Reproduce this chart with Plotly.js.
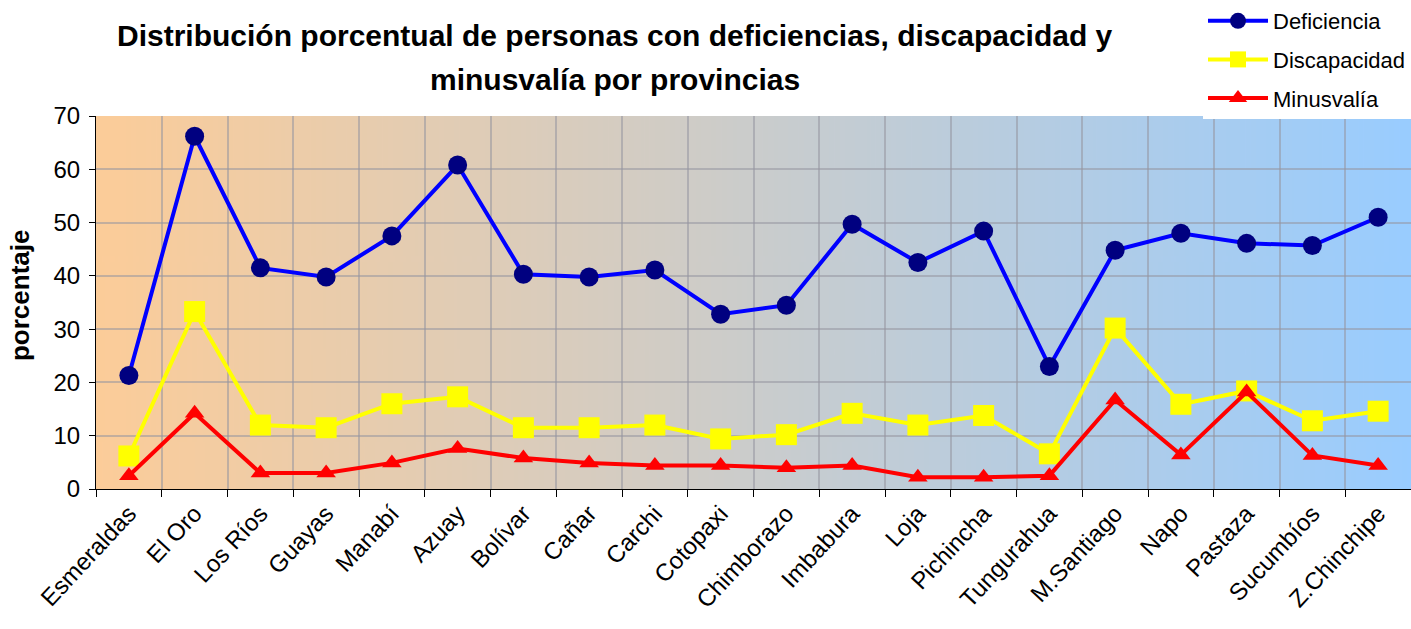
<!DOCTYPE html>
<html>
<head>
<meta charset="utf-8">
<script src="https://cdn.plot.ly/plotly-3.0.1.min.js"></script>
<style>
  html, body { margin: 0; padding: 0; background: #ffffff; }
  #chart { width: 1411px; height: 629px; }
</style>
</head>
<body>
<div id="chart"></div>
<script>
var provincias = ["Esmeraldas", "El Oro", "Los Ríos", "Guayas", "Manabí", "Azuay", "Bolívar", "Cañar", "Carchi", "Cotopaxi",
                  "Chimborazo", "Imbabura", "Loja", "Pichincha", "Tungurahua", "M.Santiago", "Napo", "Pastaza", "Sucumbíos", "Z.Chinchipe"];
var deficiencia  = [21.3, 66.2, 41.5, 39.8, 47.5, 60.8, 40.3, 39.8, 41.1, 32.8, 34.5, 49.7, 42.5, 48.4, 23.0, 44.8, 48.0, 46.1, 45.7, 51.0];
var discapacidad = [6.2, 33.3, 12.0, 11.5, 16.0, 17.3, 11.5, 11.5, 12.0, 9.4, 10.2, 14.2, 12.0, 13.8, 6.6, 30.2, 15.9, 18.4, 12.8, 14.6];
var minusvalia   = [2.5, 14.2, 3.0, 3.0, 4.9, 7.6, 5.8, 4.9, 4.4, 4.4, 4.0, 4.4, 2.2, 2.2, 2.5, 16.7, 6.4, 18.2, 6.3, 4.4];
var yTicks = [0, 10, 20, 30, 40, 50, 60, 70];

var titleLine1 = "Distribución porcentual de personas con deficiencias, discapacidad y";
var titleLine2 = "minusvalía por provincias";
var yTitle = "porcentaje";

// gradient background image for the plot area
var cv = document.createElement("canvas");
cv.width = 512; cv.height = 4;
var ctx = cv.getContext("2d");
var g = ctx.createLinearGradient(0, 0, 512, 0);
g.addColorStop(0, "rgb(252,204,153)");
g.addColorStop(1, "rgb(153,204,255)");
ctx.fillStyle = g;
ctx.fillRect(0, 0, 512, 4);
var bgURL = cv.toDataURL("image/png");

var FONT = "Liberation Sans, Arial, sans-serif";

var traces = [
  {
    x: provincias, y: deficiencia, name: "Deficiencia", type: "scatter", mode: "lines+markers",
    line: {color: "#0000FF", width: 4},
    marker: {symbol: "circle", size: 19, color: "#000080", line: {width: 0}},
    legendgroup: "a"
  },
  {
    x: provincias, y: discapacidad, name: "Discapacidad", type: "scatter", mode: "lines+markers",
    line: {color: "#FFFF00", width: 4},
    marker: {symbol: "square", size: 21, color: "#FFFF00", line: {width: 0}},
    legendgroup: "b"
  },
  {
    x: provincias, y: minusvalia, name: "Minusvalía", type: "scatter", mode: "lines+markers",
    line: {color: "#FF0000", width: 4},
    marker: {symbol: "triangle-up", size: 17, color: "#FF0000", line: {width: 0}},
    legendgroup: "c"
  }
];

var layout = {
  width: 1411, height: 629,
  margin: {l: 96, r: 0, t: 116, b: 140, pad: 0, autoexpand: false},
  paper_bgcolor: "#ffffff",
  plot_bgcolor: "rgba(0,0,0,0)",
  font: {family: FONT, color: "#000000"},
  showlegend: true,
  legend: {
    x: 1, xanchor: "right", xref: "container",
    y: 1.012, yanchor: "top", yref: "container",
    bgcolor: "#ffffff", borderwidth: 0,
    font: {family: FONT, size: 22, color: "#000000"},
    itemwidth: 60, tracegroupgap: 7, traceorder: "grouped"
  },
  xaxis: {
    type: "category",
    range: [-0.5, provincias.length - 0.5],
    tickson: "boundaries",
    ticks: "outside", ticklen: 7, tickcolor: "#000000", tickwidth: 1,
    showline: true, linecolor: "#000000", linewidth: 1,
    showgrid: true, gridcolor: "rgba(150,150,160,0.55)", gridwidth: 2,
    tickangle: -47,
    tickfont: {family: FONT, size: 24, color: "#000000"},
    automargin: false, fixedrange: true
  },
  yaxis: {
    range: [0, 70], tickvals: yTicks, ticktext: yTicks.map(String),
    ticks: "outside", ticklen: 6, tickcolor: "#000000", tickwidth: 1,
    showline: true, linecolor: "#000000", linewidth: 1,
    showgrid: true, gridcolor: "rgba(150,150,160,0.55)", gridwidth: 2,
    zeroline: false,
    tickfont: {family: FONT, size: 24, color: "#000000"},
    ticklabelstandoff: 4,
    automargin: false, fixedrange: true
  },
  images: [{
    source: bgURL, xref: "paper", yref: "paper",
    x: 0, y: 1, sizex: 1, sizey: 1, xanchor: "left", yanchor: "top",
    sizing: "stretch", layer: "below"
  }],
  annotations: [
    {text: titleLine1, xref: "paper", yref: "paper", x: 0.3947, y: 1.217, xanchor: "center", yanchor: "middle",
     showarrow: false, font: {family: FONT, size: 30, weight: "bold", color: "#000000"}},
    {text: titleLine2, xref: "paper", yref: "paper", x: 0.3947, y: 1.099, xanchor: "center", yanchor: "middle",
     showarrow: false, font: {family: FONT, size: 30, weight: "bold", color: "#000000"}},
    {text: yTitle, xref: "paper", yref: "paper", x: -0.0578, y: 0.52, xanchor: "center", yanchor: "middle",
     textangle: -90, showarrow: false, font: {family: FONT, size: 26, weight: "bold", color: "#000000"}}
  ]
};

Plotly.newPlot("chart", traces, layout, {displayModeBar: false, staticPlot: true});
</script>
</body>
</html>
